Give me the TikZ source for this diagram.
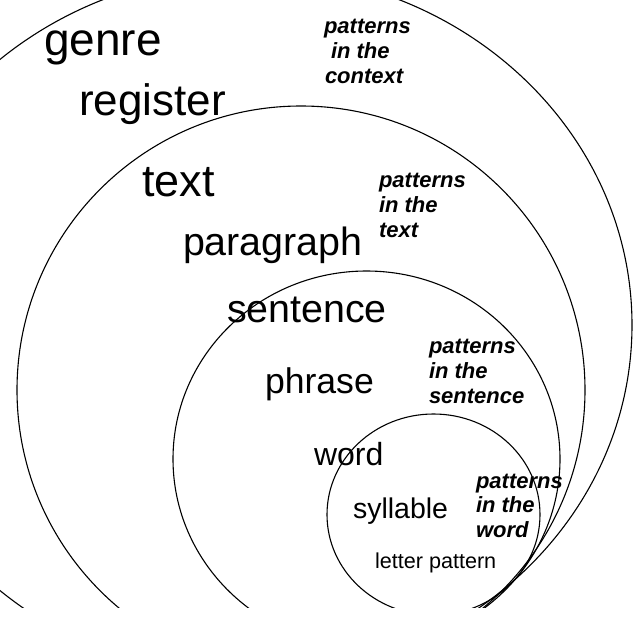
\documentclass[tikz,border=0pt]{standalone}
\usepackage{fontspec}
\setmainfont{Liberation Sans}
\begin{document}
\begin{tikzpicture}[x=1pt,y=-1pt,
  ring/.style={draw=black,line width=1.1pt},
  lbl/.style={anchor=base west,inner sep=0pt,outer sep=0pt,text=black},
  pat/.style={lbl,font=\fontsize{22}{26}\selectfont\bfseries\itshape}]
\useasboundingbox (0,0) rectangle (640,640);
\fill[white] (0,0) rectangle (640,640);
% level words
\node[lbl,font=\fontsize{46}{55}\selectfont] (genre) at (44,55) {genre};
\node[lbl,font=\fontsize{44}{53}\selectfont] (register) at (79,115) {register};
\node[lbl,font=\fontsize{45}{54}\selectfont] (text) at (142,196) {text};
\node[lbl,font=\fontsize{39.4}{47}\selectfont] (paragraph) at (183,255) {paragraph};
\node[lbl,font=\fontsize{39.4}{47}\selectfont] (sentence) at (227,322) {sentence};
\node[lbl,font=\fontsize{35.6}{43}\selectfont] (phrase) at (265,393) {phrase};
\node[lbl,font=\fontsize{32}{38}\selectfont] (word) at (314,465) {word};
\node[lbl,font=\fontsize{28.5}{34}\selectfont] (syllable) at (353,518) {syllable};
\node[lbl,font=\fontsize{21.6}{26}\selectfont] (letter) at (375,568) {letter pattern};
% pattern labels
\node[pat] (ctxa) at (324,33) {patterns};
\node[pat] (ctxb) at (331,58) {in the};
\node[pat] (ctxc) at (325,83) {context};
\node[pat] (txta) at (379,187) {patterns};
\node[pat] (txtb) at (379,212) {in the};
\node[pat] (txtc) at (379,237) {text};
\node[pat] (sena) at (429,353) {patterns};
\node[pat] (senb) at (429,378) {in the};
\node[pat] (senc) at (429,403) {sentence};
\node[pat] (wrda) at (476,488) {patterns};
\node[pat] (wrdb) at (476,512) {in the};
\node[pat] (wrdc) at (476,537) {word};
% nested rings
\begin{scope}
\clip (0,0) rectangle (640,607);
\draw[ring] (251,325) ellipse [x radius=381pt, y radius=353pt];
\draw[ring] (301,390) ellipse [x radius=284pt, y radius=284pt];
\draw[ring] (366.5,459) ellipse [x radius=193.5pt, y radius=188pt];
\draw[ring] (433.5,514.6) ellipse [x radius=106.5pt, y radius=100.6pt];
\end{scope}
\end{tikzpicture}
\end{document}
